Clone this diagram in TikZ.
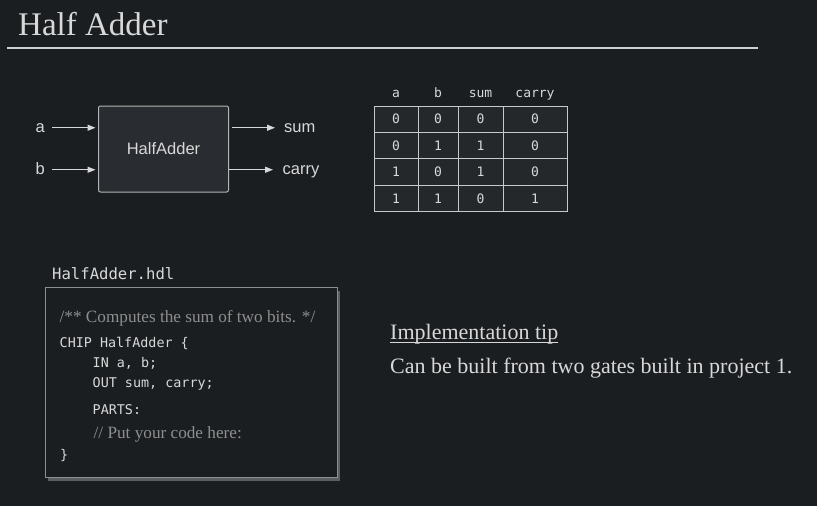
\documentclass[tikz,border=0pt]{standalone}
\usepackage{fontspec}
\setmainfont{Liberation Serif}
\setsansfont{Liberation Sans}
\setmonofont{DejaVu Sans Mono}
\usetikzlibrary{arrows.meta, positioning, shadows}

\definecolor{slidebg}{HTML}{1B1E21}
\definecolor{slidefg}{HTML}{D8D8D8}
\definecolor{rulecolor}{HTML}{D0D0D0}
\definecolor{chipfill}{HTML}{292C30}
\definecolor{chipedge}{HTML}{B4B4B4}
\definecolor{cellfill}{HTML}{25282B}
\definecolor{celledge}{HTML}{C8C8C8}
\definecolor{codeedge}{HTML}{8C8F92}
\definecolor{codeshadow}{HTML}{5C5F62}
\definecolor{commentcolor}{HTML}{8E8E8E}

\begin{document}
\begin{tikzpicture}[x=1pt, y=-1pt]

\useasboundingbox (0, 0) rectangle (817, 506) ;
\fill [slidebg] (0, 0) rectangle (817, 506) ;

% title

\node [anchor=base west, inner sep=0, text=slidefg, font=\fontsize{33}{33}\selectfont]
	(title) at (18, 35) {Half Adder} ;

\draw [line width=1.5pt, color=rulecolor] (7, 48) -- (758, 48) ;

% chip

\tikzstyle{pin label} = [inner sep=0, text=slidefg, text height=12pt, text depth=3.5pt,
	font=\sffamily\fontsize{16.5}{16.5}\selectfont]
\tikzstyle{pin line} = [line width=1.3pt, slidefg, -{Triangle[length=8pt, width=6pt]}]

\node [draw=chipedge, fill=chipfill, line width=1pt, rounded corners=2pt,
	minimum width=130pt, minimum height=86pt, text=slidefg,
	font=\sffamily\fontsize{16.5}{16.5}\selectfont]
	(chip) at (163.5, 149) {HalfAdder} ;

\node [pin label, anchor=base east] (a) at (45, 132) {a} ;
\node [pin label, anchor=base east] (b) at (45, 174) {b} ;
\node [pin label, anchor=base west] (sum) at (284, 132) {sum} ;
\node [pin label, anchor=base west] (carry) at (282.5, 174) {carry} ;

\draw [pin line, shorten <=7pt, shorten >=2.5pt] (a) -- (chip.west |- a) ;
\draw [pin line, shorten <=7pt, shorten >=2.5pt] (b) -- (chip.west |- b) ;
\draw [pin line, shorten <=2.5pt, shorten >=9pt] (chip.east |- sum) -- (sum) ;
\draw [pin line, shorten <=0pt, shorten >=9.5pt] (chip.east |- carry) -- (carry) ;

% truth table

\def\rowheight{26.4}
\def\firstrow{119.2}

\tikzstyle{truth text} = [text=slidefg, font=\ttfamily\fontsize{13}{13}\selectfont]
\tikzstyle{truth cell} = [truth text, draw=celledge, fill=cellfill, line width=1pt,
	minimum height=\rowheight pt, inner sep=0]

\foreach \col/\xcol in {a/396, b/438, sum/480.5, carry/535}
	\node [truth text, anchor=base, inner sep=0] (head-\col) at (\xcol, 97.5) {\col} ;

\foreach \va/\vb/\vs/\vc [count=\r from 0] in {0/0/0/0, 0/1/1/0, 1/0/1/0, 1/1/0/1}
{
	\pgfmathsetmacro\yrow{\firstrow + \r * \rowheight}
	\node [truth cell, minimum width=44pt] (cell-\r-a) at (396, \yrow) {\va} ;
	\node [truth cell, minimum width=40pt] (cell-\r-b) at (438, \yrow) {\vb} ;
	\node [truth cell, minimum width=45pt] (cell-\r-sum) at (480.5, \yrow) {\vs} ;
	\node [truth cell, minimum width=64pt] (cell-\r-carry) at (535, \yrow) {\vc} ;
}

% hdl file

\tikzstyle{code line} = [anchor=base west, inner sep=0, text=slidefg,
	font=\ttfamily\fontsize{13.4}{13.4}\selectfont]
\tikzstyle{comment line} = [anchor=base west, inner sep=0, text=commentcolor,
	font=\fontsize{17.2}{17.2}\selectfont]

\node [anchor=base west, inner sep=0, text=slidefg, font=\ttfamily\fontsize{15.6}{15.6}\selectfont]
	(filename) at (52, 279) {HalfAdder.hdl} ;

\node [draw=codeedge, fill=slidebg, line width=1pt, minimum width=292pt, minimum height=190pt,
	drop shadow={shadow xshift=3pt, shadow yshift=-3pt, fill=codeshadow, opacity=1}]
	(code) at (191, 382.5) {} ;

\node [comment line] (comment) at (59.5, 322) {/** Computes the sum of two bits. */} ;
\node [code line] (chipline) at (59.5, 347) {CHIP HalfAdder \{} ;
\node [code line] (inline) at (92.5, 367.5) {IN a, b;} ;
\node [code line] (outline) at (92.5, 387.5) {OUT sum, carry;} ;
\node [code line] (partsline) at (92.5, 414) {PARTS:} ;
\node [comment line] (putline) at (93.5, 438) {// Put your code here:} ;
\node [code line] (closeline) at (60, 459) {\}} ;

% implementation tip

\node [anchor=base west, inner sep=0, text=slidefg, font=\fontsize{22}{22}\selectfont]
	(tip) at (390, 339) {Implementation tip} ;
\draw [slidefg, line width=1pt] ([yshift=-3.3pt]tip.base west) -- ([yshift=-3.3pt]tip.base east) ;

\node [anchor=base west, inner sep=0, text=slidefg, font=\fontsize{22}{22}\selectfont]
	(tiptext) at (390, 373) {Can be built from two gates built in project 1.} ;

\end{tikzpicture}
\end{document}
